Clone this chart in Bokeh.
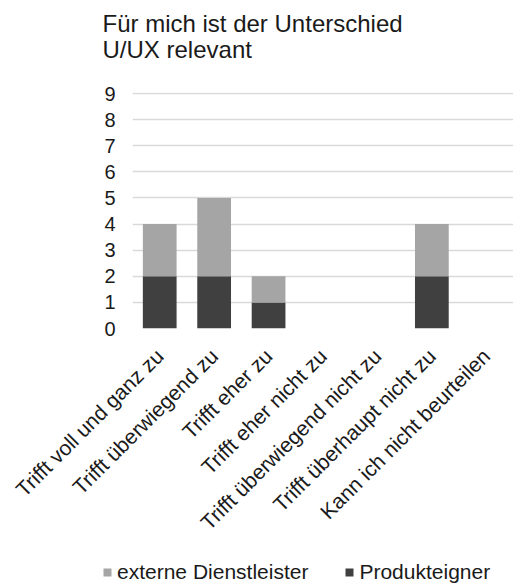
import math
from bokeh.plotting import figure
from bokeh.layouts import column
from bokeh.models import ColumnDataSource, FactorRange, Range1d, Legend, LegendItem, FixedTicker, Label
from bokeh.embed import file_html
from bokeh.resources import INLINE

categories = [
    "Trifft voll und ganz zu",
    "Trifft überwiegend zu",
    "Trifft eher zu",
    "Trifft eher nicht zu",
    "Trifft überwiegend nicht zu",
    "Trifft überhaupt nicht zu",
    "Kann ich nicht beurteilen",
]
produkteigner = [2, 2, 1, 0, 0, 2, 0]
externe_dienstleister = [2, 3, 1, 0, 0, 2, 0]
y_ticks = [0, 1, 2, 3, 4, 5, 6, 7, 8, 9]
series_keys = ["Produkteigner", "externe"]
series_labels = ["Produkteigner", "externe Dienstleister"]
series_colors = ["#404040", "#a5a5a5"]
title_lines = ["Für mich ist der Unterschied", "U/UX relevant"]

FONT = "Liberation Sans"
TXT = "#1a1a1a"
W = 513


def strip(height):
    f = figure(width=W, height=height, x_range=Range1d(0, W), y_range=Range1d(0, height),
               output_backend="svg", toolbar_location=None,
               x_axis_type=None, y_axis_type=None,
               min_border_left=0, min_border_right=0, min_border_top=0, min_border_bottom=0)
    if "frame_align" in f.properties():
        f.frame_align = False
    f.outline_line_color = None
    return f


source = ColumnDataSource(dict(
    cat=categories,
    Produkteigner=produkteigner,
    externe=externe_dienstleister,
))

# ---- title strip ----
TH = 80
pt = strip(TH)
for i, line in enumerate(title_lines):
    pt.add_layout(Label(x=102, y=TH - 23 - 26 * i, text=line,
                        text_font=FONT, text_font_size="24px", text_color=TXT,
                        text_align="left", text_baseline="alphabetic"))

# ---- main chart ----
p = figure(
    x_range=FactorRange(*categories, range_padding=0),
    y_range=Range1d(0, 9.04),
    width=W, height=545 - TH,
    output_backend="svg", toolbar_location=None,
    min_border_left=132, min_border_right=0,
    min_border_top=92 - TH, min_border_bottom=215,
)
p.outline_line_color = None
p.background_fill_color = "white"
p.border_fill_color = "white"

p.vbar_stack(series_keys, x="cat", width=0.62,
             color=series_colors, line_color=None, source=source)

p.yaxis.ticker = FixedTicker(ticks=y_ticks)
p.yaxis.axis_line_color = None
p.yaxis.major_tick_line_color = None
p.yaxis.minor_tick_line_color = None
p.yaxis.major_tick_out = 0
p.yaxis.major_label_standoff = 17
p.yaxis.major_label_text_font = FONT
p.yaxis.major_label_text_font_size = "20px"
p.yaxis.major_label_text_color = TXT

p.xaxis.axis_line_color = None
p.xaxis.major_tick_line_color = None
p.xaxis.major_tick_out = 0
p.xaxis.major_label_standoff = 24
p.xaxis.major_label_orientation = math.pi / 4
p.xaxis.major_label_text_font = FONT
p.xaxis.major_label_text_font_size = "21px"
p.xaxis.major_label_text_color = TXT

p.xgrid.grid_line_color = None
p.ygrid.grid_line_color = "#d9d9d9"
p.ygrid.grid_line_width = 1.3

# ---- legend strip (bars kept out of view) ----
pl = figure(
    x_range=FactorRange(*categories, range_padding=0),
    y_range=Range1d(100, 101),
    width=W, height=39,
    output_backend="svg", toolbar_location=None,
    x_axis_type=None, y_axis_type=None,
    min_border_left=0, min_border_right=0, min_border_top=0, min_border_bottom=0,
)
if "frame_align" in pl.properties():
    pl.frame_align = False
pl.outline_line_color = None
rl = pl.vbar_stack(series_keys, x="cat", width=0.62,
                   color=series_colors, line_color=None, source=source)

legend = Legend(
    items=[
        LegendItem(label=series_labels[1], renderers=[rl[1]]),
        LegendItem(label=series_labels[0], renderers=[rl[0]]),
    ],
    orientation="horizontal",
    location=(102, 0),
    padding=0, margin=0, spacing=36,
    glyph_width=10, glyph_height=10,
    label_standoff=5,
    label_text_font=FONT, label_text_font_size="21px",
    label_text_color=TXT,
    border_line_color=None, background_fill_alpha=0,
)
pl.add_layout(legend, "center")

layout = column(pt, p, pl, spacing=0)
open("out.html", "w").write(file_html(layout, INLINE))
